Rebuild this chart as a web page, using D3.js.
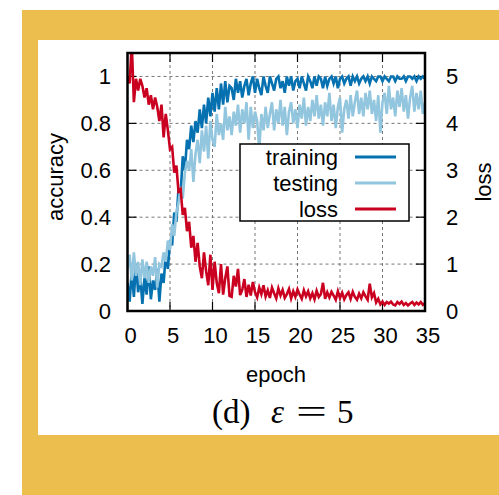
<!DOCTYPE html>
<html><head><meta charset="utf-8">
<script src="https://cdn.jsdelivr.net/npm/d3@7"></script>
<style>html,body{margin:0;padding:0;background:#fff}svg{display:block}</style>
</head><body>
<svg id="c" width="499" height="495"></svg>
<script>
// ---- data (sampled every 0.25 epoch, epochs 0..35) ----
const epochStep = 0.25;
const xTicks = [0,5,10,15,20,25,30,35];
const yTicks = [0,0.2,0.4,0.6,0.8,1];
const yTickLabels = ["0","0.2","0.4","0.6","0.8","1"];
const lossTicks = [0,1,2,3,4,5];
const seriesNames = ["training","testing","loss"];
const seriesColors = ["#0571b0","#92c5de","#ca0020"];
const training = [
0.12,0.04,0.17,0.06,0.20,0.08,0.15,0.03,0.14,0.07,0.19,0.05,0.13,0.09,0.18,0.04,0.16,
0.12,0.24,0.18,0.30, 0.28,0.42,0.38,0.52, 0.50,0.66,0.60,0.73, 0.69,0.79,0.72,0.81,
0.76,0.86,0.78,0.88, 0.80,0.91,0.83,0.93, 0.85,0.95,0.86,0.97, 0.88,0.98,0.89,0.96,
0.95,0.90,0.99,0.93, 0.98,0.91,0.96,0.99, 0.92,0.97,1.00,0.93, 0.99,0.95,0.92,1.00,
0.96,0.93,1.00,0.97, 0.94,0.99,1.00,0.95, 0.98,0.93,1.00,0.96, 1.00,0.94,0.98,0.99,
0.95,1.00,0.97,0.94, 1.00,0.98,0.95,1.00, 0.96,1.00,0.99,0.95, 1.00,0.96,0.99,1.00,
0.97,1.00,0.95,0.99, 1.00,0.97,0.99,1.00, 0.96,1.00,0.98,1.00, 0.97,0.99,1.00,0.98,
1.00,0.97,1.00,0.99, 0.98,1.00,1.00,0.98, 1.00,0.99,0.98,1.00, 1.00,0.98,1.00,0.99,
0.99,1.00,0.98,1.00, 1.00,0.99,1.00,0.98, 1.00,0.99,1.00,0.99];
const testing = [
0.18,0.24,0.13,0.25,0.15,0.21,0.11,0.22,0.14,0.21,0.12,0.19,0.15,0.23,0.10,0.20,0.19,
0.25,0.21,0.30,0.26, 0.37,0.32,0.42,0.46, 0.53,0.48,0.59,0.64, 0.60,0.69,0.55,0.67,
0.73,0.63,0.77,0.68, 0.79,0.65,0.81,0.73, 0.70,0.84,0.75,0.80, 0.73,0.87,0.77,0.83,
0.75,0.85,0.79,0.88, 0.76,0.86,0.80,0.89, 0.73,0.87,0.78,0.85, 0.81,0.69,0.84,0.77,
0.87,0.78,0.84,0.89, 0.77,0.86,0.80,0.90, 0.79,0.87,0.75,0.85, 0.89,0.80,0.86,0.78,
0.88,0.82,0.91,0.79, 0.87,0.81,0.90,0.83, 0.92,0.82,0.88,0.79, 0.89,0.83,0.93,0.81,
0.88,0.78,0.87,0.91, 0.76,0.86,0.90,0.82, 0.92,0.83,0.89,0.94, 0.84,0.91,0.83,0.93,
0.86,0.94,0.84,0.90, 0.81,0.92,0.76,0.89, 0.93,0.84,0.96,0.86, 0.91,0.83,0.94,0.87,
0.95,0.85,0.92,0.82, 0.91,0.96,0.85,0.93, 0.86,0.94,0.84,0.89];
const loss = [
5.00,4.85,5.70,4.45,4.95, 4.70,4.95,4.80,4.55, 4.75,4.40,4.60,4.30, 4.55,4.35,4.05,4.40,
3.70,4.20,3.85,3.45, 3.50,2.95,3.10,2.55, 2.60,2.05,2.20,1.70, 1.90,1.35,1.60,1.05,
1.45,0.95,0.70,1.25, 0.85,0.55,1.20,0.45, 1.05,0.60,0.38,1.00, 0.35,0.70,0.95,0.32,
0.30,0.75,0.52,0.90, 0.34,0.45,0.68,0.30, 0.56,0.33,0.62,0.40, 0.29,0.50,0.36,0.55,
0.31,0.44,0.28,0.50, 0.38,0.27,0.48,0.33, 0.45,0.28,0.36,0.47, 0.27,0.42,0.30,0.46,
0.35,0.26,0.44,0.31, 0.42,0.27,0.38,0.25, 0.43,0.30,0.36,0.60, 0.26,0.40,0.29,0.41,
0.33,0.24,0.42,0.28, 0.39,0.25,0.34,0.40, 0.26,0.41,0.30,0.24, 0.37,0.27,0.40,0.31,
0.24,0.58,0.29,0.38, 0.18,0.26,0.14,0.20, 0.13,0.19,0.16,0.20, 0.14,0.12,0.19,0.15,
0.20,0.13,0.17,0.12, 0.16,0.19,0.13,0.18, 0.14,0.19,0.13,0.17];

// ---- layout ----
const svg = d3.select("#c");
svg.append("rect").attr("x",22).attr("y",10).attr("width",477).attr("height",485).attr("fill","#ebbe4d");
svg.append("rect").attr("x",38).attr("y",40).attr("width",461).attr("height",395).attr("fill","#ffffff");

const L=127.5, R=425, T=53, B=311;
const x = d3.scaleLinear().domain([0,35]).range([L,R]);
const y = d3.scaleLinear().domain([0,1.1]).range([B,T]);
const yl = d3.scaleLinear().domain([0,5.5]).range([B,T]);
const font = "'Liberation Sans', Arial, Helvetica, sans-serif";

svg.append("clipPath").attr("id","clip").append("rect").attr("x",L).attr("y",T).attr("width",R-L).attr("height",B-T);

// grid
const grid = svg.append("g").attr("stroke","#777").attr("stroke-width",1).attr("stroke-dasharray","3,3");
xTicks.filter(d=>d>0&&d<35).forEach(d=>grid.append("line").attr("x1",x(d)).attr("x2",x(d)).attr("y1",T).attr("y2",B));
yTicks.filter(d=>d>0).forEach(d=>grid.append("line").attr("x1",L).attr("x2",R).attr("y1",y(d)).attr("y2",y(d)));

// tick marks (inward)
const tk = svg.append("g").attr("stroke","#000").attr("stroke-width",1.2);
xTicks.forEach(d=>{tk.append("line").attr("x1",x(d)).attr("x2",x(d)).attr("y1",B).attr("y2",B-9);
  tk.append("line").attr("x1",x(d)).attr("x2",x(d)).attr("y1",T).attr("y2",T+9);});
yTicks.forEach(d=>tk.append("line").attr("x1",L).attr("x2",L+9).attr("y1",y(d)).attr("y2",y(d)));
lossTicks.forEach(d=>tk.append("line").attr("x1",R).attr("x2",R-9).attr("y1",yl(d)).attr("y2",yl(d)));

// lines
const series = [training,testing,loss];
const plot = svg.append("g").attr("clip-path","url(#clip)");
series.forEach((s,i)=>{
  const sc = i===2 ? yl : y;
  const line = d3.line().x((d,j)=>x(j*epochStep)).y(d=>sc(d));
  plot.append("path").attr("d",line(s)).attr("fill","none").attr("stroke",seriesColors[i])
    .attr("stroke-width",2.6).attr("stroke-linejoin","miter");
});

// legend
const lg = svg.append("g");
lg.append("rect").attr("x",240).attr("y",144).attr("width",169).attr("height",77).attr("fill","#fff").attr("stroke","#000").attr("stroke-width",1.5);
seriesNames.forEach((n,i)=>{
  const cy = 157 + i*26;
  lg.append("text").attr("x",338).attr("y",cy+8).attr("text-anchor","end").attr("font-family",font).attr("font-size",22).attr("fill","#000").text(n);
  lg.append("line").attr("x1",355).attr("x2",396).attr("y1",cy).attr("y2",cy).attr("stroke",seriesColors[i]).attr("stroke-width",3);
});

// frame
svg.append("rect").attr("x",L).attr("y",T).attr("width",R-L).attr("height",B-T).attr("fill","none").attr("stroke","#000").attr("stroke-width",2.5);

// tick labels
const tl = svg.append("g").attr("font-family",font).attr("font-size",22).attr("fill","#000");
xTicks.forEach(d=>tl.append("text").attr("x",x(d)+3).attr("y",343).attr("text-anchor","middle").text(d));
yTicks.forEach((d,i)=>tl.append("text").attr("x",111).attr("y",y(d)+8).attr("text-anchor","end").text(yTickLabels[i]));
lossTicks.forEach(d=>tl.append("text").attr("x",446).attr("y",yl(d)+8).attr("text-anchor","start").text(d));

// axis titles
tl.append("text").attr("x",276).attr("y",382).attr("text-anchor","middle").text("epoch");
tl.append("text").attr("transform","translate(63,177) rotate(-90)").attr("text-anchor","middle").text("accuracy");
tl.append("text").attr("transform","translate(491,182) rotate(-90)").attr("text-anchor","middle").text("loss");

// caption
const capFont = "'Liberation Serif','Times New Roman',serif";
const cap = svg.append("g").attr("font-family",capFont).attr("font-size",33).attr("fill","#000");
cap.append("text").attr("x",212).attr("y",423).text("(d)");
cap.append("text").attr("x",271).attr("y",423).attr("font-style","italic").text("\u03B5");
cap.append("text").attr("x",296).attr("y",423).attr("textLength",31).attr("lengthAdjust","spacingAndGlyphs").text("=");
cap.append("text").attr("x",337).attr("y",423).text("5");
</script>
</body></html>
